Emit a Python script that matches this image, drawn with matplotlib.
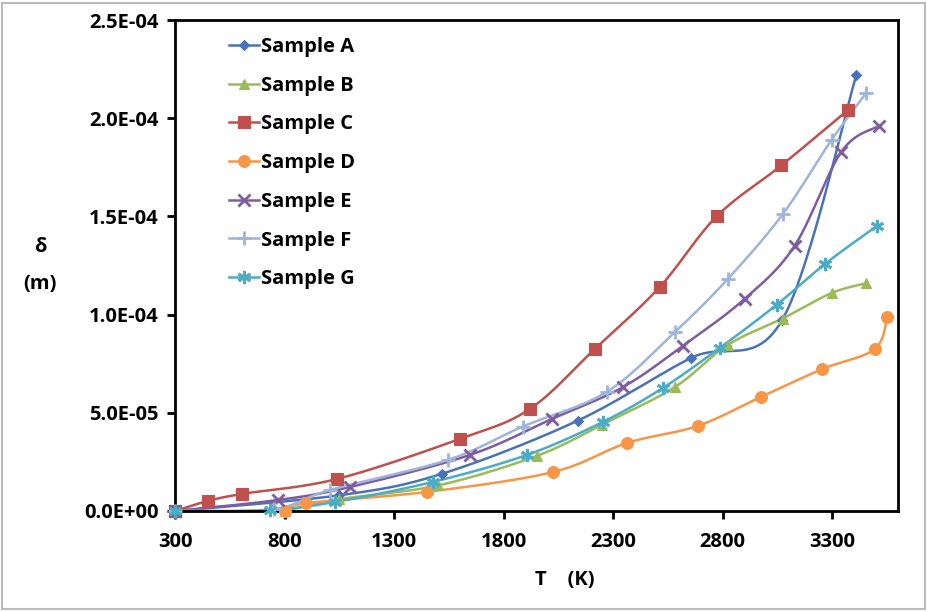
import numpy as np
import matplotlib
matplotlib.use("Agg")
import matplotlib.pyplot as plt
from matplotlib.ticker import FixedLocator, FuncFormatter
from matplotlib.lines import Line2D
from matplotlib.patches import Rectangle

# ---------------- data ----------------
series_names = ["Sample A", "Sample B", "Sample C", "Sample D", "Sample E", "Sample F", "Sample G"]

a_T = [300, 1050, 1520, 2138, 2657, 3070, 3410]
a_d = [0.0, 8.0e-6, 1.9e-5, 4.6e-5, 7.8e-5, 9.7e-5, 2.22e-4]

b_T = [800, 1050, 1500, 1950, 2250, 2580, 2822, 3073, 3297, 3456]
b_d = [0.0, 6.0e-6, 1.3e-5, 2.8e-5, 4.4e-5, 6.3e-5, 8.45e-5, 9.8e-5, 1.11e-4, 1.16e-4]

c_T = [300, 450, 606, 1039, 1600, 1919, 2216, 2512, 2772, 3068, 3370]
c_d = [0.0, 5.1e-6, 8.7e-6, 1.63e-5, 3.67e-5, 5.19e-5, 8.25e-5, 1.14e-4, 1.50e-4, 1.76e-4, 2.04e-4]

d_T = [800, 900, 1449, 2024, 2362, 2685, 2973, 3255, 3493, 3552]
d_d = [0.0, 4.0e-6, 9.7e-6, 1.98e-5, 3.46e-5, 4.33e-5, 5.80e-5, 7.23e-5, 8.24e-5, 9.9e-5]

e_T = [300, 770, 1098, 1645, 2019, 2343, 2617, 2900, 3128, 3342, 3511]
e_d = [0.0, 5.6e-6, 1.22e-5, 2.85e-5, 4.68e-5, 6.3e-5, 8.4e-5, 1.08e-4, 1.35e-4, 1.83e-4, 1.96e-4]

f_T = [300, 750, 1007, 1545, 1887, 2270, 2580, 2822, 3073, 3297, 3456]
f_d = [0.0, 1.0e-6, 1.07e-5, 2.6e-5, 4.3e-5, 6.06e-5, 9.1e-5, 1.18e-4, 1.51e-4, 1.89e-4, 2.13e-4]

g_T = [300, 733, 1030, 1477, 1905, 2252, 2526, 2786, 3046, 3269, 3502]
g_d = [0.0, 5.0e-7, 4.6e-6, 1.48e-5, 2.85e-5, 4.53e-5, 6.26e-5, 8.3e-5, 1.05e-4, 1.26e-4, 1.45e-4]

x_ticks = [300, 800, 1300, 1800, 2300, 2800, 3300]
y_ticks = [0.0, 5.0e-5, 1.0e-4, 1.5e-4, 2.0e-4, 2.5e-4]

# ---------------- styles ----------------
colors = ["#4A72B8", "#9BBB59", "#C0504D", "#F79646", "#7E5CA0", "#9DB4DC", "#4BACC6"]
markers = ["D", "^", "s", "o", "x", "+", (6, 2, 0)]
msizes = [5.5, 7.5, 8.5, 8.5, 8.5, 9.5, 9.5]

plt.rcParams['font.family'] = ['Open Sans', 'DejaVu Sans']
plt.rcParams['font.weight'] = 'bold'
FS = 14.5

fig = plt.figure(figsize=(9.28, 6.12), dpi=100)
ax = fig.add_axes([175 / 928, 101 / 612, 723 / 928, 491 / 612])


def smooth(xs, ys, n=30):
    """Excel-like smoothed line (Bezier through points)."""
    P = np.column_stack([xs, ys]).astype(float)
    sx = 3300.0
    sy = 2.5e-4
    P[:, 0] /= sx
    P[:, 1] /= sy
    out = [P[0]]
    m = len(P)
    for i in range(m - 1):
        p0 = P[i - 1] if i > 0 else P[i]
        p1 = P[i]
        p2 = P[i + 1]
        p3 = P[i + 2] if i + 2 < m else P[i + 1]
        c1 = p1 + (p2 - p0) / 6.0
        c2 = p2 - (p3 - p1) / 6.0
        t = np.linspace(0, 1, n)[1:, None]
        seg = ((1 - t) ** 3) * p1 + 3 * ((1 - t) ** 2) * t * c1 + 3 * (1 - t) * t ** 2 * c2 + t ** 3 * p2
        out.extend(seg)
    out = np.array(out)
    return out[:, 0] * sx, out[:, 1] * sy


all_T = [a_T, b_T, c_T, d_T, e_T, f_T, g_T]
all_d = [a_d, b_d, c_d, d_d, e_d, f_d, g_d]

handles = []
for name, T, d, col, mk, ms in zip(series_names, all_T, all_d, colors, markers, msizes):
    sxv, syv = smooth(T, d)
    mew = 2 if mk in ("x", "+", (6, 2, 0)) else 0.8
    ax.plot(sxv, syv, color=col, lw=1.8, zorder=2, clip_on=False)
    ax.plot(T, d, linestyle='none', marker=mk, color=col, markersize=ms,
            markeredgewidth=mew, markeredgecolor=col, zorder=3, clip_on=False)
    handles.append(Line2D([0], [0], color=col, lw=1.8, marker=mk, markersize=ms,
                          markeredgewidth=mew, markeredgecolor=col, label=name))

ax.set_xlim(300, 3600)
ax.set_ylim(0, 2.5e-4)
ax.xaxis.set_major_locator(FixedLocator(x_ticks))
ax.yaxis.set_major_locator(FixedLocator(y_ticks))
ax.yaxis.set_major_formatter(FuncFormatter(lambda v, p: "%.1E" % v))
ax.xaxis.set_major_formatter(FuncFormatter(lambda v, p: "%d" % v))
ax.tick_params(axis='both', direction='out', length=6, width=2, labelsize=FS)
ax.tick_params(axis='x', pad=9)
ax.tick_params(axis='y', pad=6)
for lab in ax.get_xticklabels() + ax.get_yticklabels():
    lab.set_fontweight('bold')
for sp in ax.spines.values():
    sp.set_color('black')
    sp.set_linewidth(2)

leg = ax.legend(handles=handles, loc='upper left', bbox_to_anchor=(0.063, 0.982),
                frameon=False, handlelength=1.5, handletextpad=0.1, labelspacing=0.93,
                borderaxespad=0, prop={'weight': 'bold', 'size': FS})

fig.text(40 / 928, 1 - 247 / 612, "δ", ha='center', va='center', fontsize=FS, fontweight='bold')
fig.text(40 / 928, 1 - 284 / 612, "(m)", ha='center', va='center', fontsize=FS, fontweight='bold')
fig.text(565 / 928, 1 - 580 / 612, "T    (K)", ha='center', va='center', fontsize=FS, fontweight='bold')

fig.patches.append(Rectangle((2 / 928, 3 / 612), 923 / 928, 606 / 612, transform=fig.transFigure,
                             fill=False, edgecolor='#BBBBBB', lw=1.5))

fig.savefig("out.png", dpi=100)
